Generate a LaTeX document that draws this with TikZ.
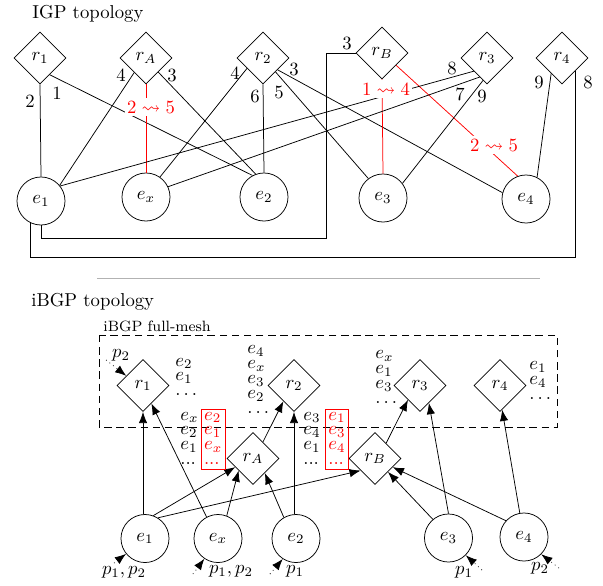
\documentclass[tikz,border=0pt]{standalone}
\usepackage{amssymb}
\usetikzlibrary{arrows.meta,shapes.geometric}
\newcommand{\elist}[1]{{\renewcommand{\arraystretch}{0.667}\begin{tabular}[t]{@{}l@{}}#1\end{tabular}}}
\begin{document}
\begin{tikzpicture}[x=0.535pt,y=-0.535pt,
  rtr/.style={draw,diamond,minimum width=27.8pt,minimum height=27.8pt,inner sep=0pt},
  eg/.style={draw,circle,minimum size=25.7pt,inner sep=0pt},
  wt/.style={inner sep=0pt},
  chg/.style={text=red,fill=white,inner xsep=1pt,inner ysep=1.5pt},
  arr/.style={-{Latex[length=6pt,width=4.5pt]}},
  ext/.style={dotted,-{Latex[length=6pt,width=4.5pt]}},
  lst/.style={inner sep=0pt,anchor=base west},
  redlst/.style={draw=red,text=red,inner xsep=1.6pt,inner ysep=0pt,anchor=base west},
  ttl/.style={anchor=base west,inner sep=0pt}]
\useasboundingbox (0,0) rectangle (603,585);
% ---------------- IGP topology ----------------
\node[ttl] (t1) at (32,18.3) {IGP topology};
\node[rtr] (r1) at (40,58) {$r_1$};
\node[rtr] (rA) at (146,58) {$r_A$};
\node[rtr] (r2) at (263,58) {$r_2$};
\node[rtr] (rB) at (382,53) {$r_B$};
\node[rtr] (r3) at (487,58) {$r_3$};
\node[rtr] (r4) at (562,58) {$r_4$};
\node[eg] (e1) at (41,201) {$e_1$};
\node[eg] (ex) at (146,197) {$e_x$};
\node[eg] (e2) at (264,197) {$e_2$};
\node[eg] (e3) at (383,198) {$e_3$};
\node[eg] (e4) at (526,199) {$e_4$};
\draw (r1.south) -- (e1.north);
\draw (r1.-60) -- (e2.118);
\draw (rA.-129) -- (e1.40);
\draw (rA.-49) -- (e2.110);
\draw[red] (rA.south) -- (ex.north);
\draw (r2.-147) -- (ex.55);
\draw (r2.south) -- (e2.north);
\draw (r2.-48) -- (e3.127);
\draw (r2.-39) -- (e4.165);
\draw[red] (rB.south) -- (e3.north);
\draw[red] (rB.-41) -- (e4.110);
\draw (r3.-135) -- (e1.38);
\draw (r3.-111) -- (ex.25);
\draw (r3.-100) -- (e3.37);
\draw (r4.-125) -- (e4.63);
\coordinate (lp1) at (326,238);
\draw (e1.south) |- (lp1) |- (rB.west);
\coordinate (lp2) at (576,257);
\draw (e1.-115) |- (r4.south east |- lp2) -- (r4.south east);
\node[wt] (w1) at (30,101) {2};
\node[wt] (w2) at (57,93) {1};
\node[wt] (w3) at (121,75) {4};
\node[wt] (w4) at (172,75) {3};
\node[wt] (w5) at (235,73) {4};
\node[wt] (w6) at (255,96) {6};
\node[wt] (w7) at (279,92) {5};
\node[wt] (w8) at (294,69) {3};
\node[wt] (w9) at (347,43) {3};
\node[wt] (w10) at (452,68) {8};
\node[wt] (w11) at (460,94) {7};
\node[wt] (w12) at (482,96) {9};
\node[wt] (w13) at (539,82) {9};
\node[wt] (w14) at (588,82) {8};
\node[chg] (c1) at (151,107) {$2\leadsto5$};
\node[chg] (c2) at (386,89) {$1\leadsto4$};
\node[chg] (c3) at (494,145) {$2\leadsto5$};
% ---------------- separator ----------------
\coordinate (sepL) at (97,278);
\coordinate (sepR) at (540,278);
\draw[black!30] (sepL) -- (sepR);
% ---------------- iBGP topology ----------------
\node[ttl] (t2) at (31,306) {iBGP topology};
\node[ttl,font=\footnotesize] (t3) at (103,331) {iBGP full-mesh};
\coordinate (mA) at (99,335);
\coordinate (mB) at (557,427);
\draw[dash pattern=on 4pt off 2.5pt] (mA) rectangle (mB);
\node[rtr] (s1) at (143,385.5) {$r_1$};
\node[rtr] (s2) at (294,385.5) {$r_2$};
\node[rtr] (sA) at (253,458.5) {$r_A$};
\node[rtr] (sB) at (375,458.5) {$r_B$};
\node[rtr] (s3) at (420,385.5) {$r_3$};
\node[rtr] (s4) at (500,385.5) {$r_4$};
\node[eg] (f1) at (145,538.5) {$e_1$};
\node[eg] (fx) at (218,538.5) {$e_x$};
\node[eg] (f2) at (296,538.5) {$e_2$};
\node[eg] (f3) at (448.5,538) {$e_3$};
\node[eg] (f4) at (524,537) {$e_4$};
\draw[arr] (f1.north -| s1) -- (s1.south);
\draw[arr] (fx.118) -- (s1.-65);
\draw[arr] (f1.70) -- (sA.-154);
\draw[arr] (f1.58) -- (sB.-140);
\draw[arr] (fx.69) -- (sA.-140);
\draw[arr] (f2.120) -- (sA.-51);
\draw[arr] (f2.north -| s2) -- (s2.south);
\draw[arr] (sA.59) -- (s2.-124);
\draw[arr] (f3.130) -- (sB.-46);
\draw[arr] (f4.138) -- (sB.-26);
\draw[arr] (sB.54) -- (s3.-130);
\draw[arr] (f3.north) -- (s3.-63);
\draw[arr] (f4.100) -- (s4.-85);
% external announcements
\coordinate (q1) at (106,360);
\draw[ext] (q1) -- (s1.150);
\node[wt] (pl1) at (121,355) {$p_2$};
\coordinate (q2) at (114,563);
\draw[ext] (q2) -- (f1.-141);
\node[wt] (pl2) at (124,572.5) {$p_1,p_2$};
\coordinate (q3) at (193,574);
\draw[ext] (q3) -- (fx.-124);
\node[wt] (pl3) at (231,571) {$p_1,p_2$};
\coordinate (q4) at (270,574);
\draw[ext] (q4) -- (f2.-123);
\node[wt] (pl4) at (295,571) {$p_1$};
\coordinate (q5) at (482,570);
\draw[ext] (q5) -- (f3.-45);
\node[wt] (pl5) at (464,572) {$p_1$};
\coordinate (q6) at (559,568);
\draw[ext] (q6) -- (f4.-45);
\node[wt] (pl6) at (540,568) {$p_2$};
% lists
\node[lst] (l1) at (175,366) {\elist{$e_2$\\$e_1$\\$\dots$}};
\node[lst] (l2) at (247,353.5) {\elist{$e_4$\\$e_x$\\$e_3$\\$e_2$\\$\dots$}};
\node[lst] (l3) at (180,420) {\elist{$e_x$\\$e_2$\\$e_1$\\$...$}};
\node[redlst] (l4) at (200.7,420) {\elist{$e_2$\\$e_1$\\$e_x$\\$...$}};
\node[lst] (l5) at (303,420) {\elist{$e_3$\\$e_4$\\$e_1$\\$...$}};
\node[redlst] (l6) at (325,420) {\elist{$e_1$\\$e_3$\\$e_4$\\$...$}};
\node[lst] (l7) at (375,358.5) {\elist{$e_x$\\$e_1$\\$e_3$\\$\dots$}};
\node[lst] (l8) at (529,369.5) {\elist{$e_1$\\$e_4$\\$\dots$}};
\end{tikzpicture}
\end{document}
